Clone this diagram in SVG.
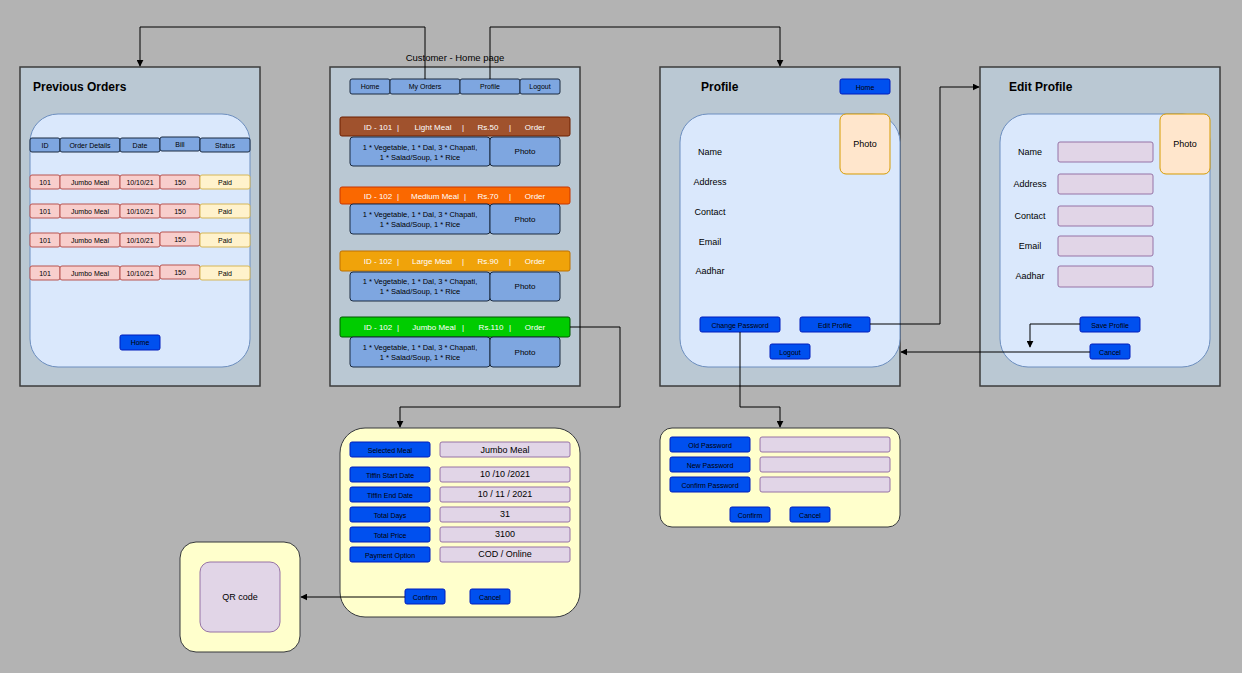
<svg xmlns="http://www.w3.org/2000/svg" width="1242" height="673" viewBox="0 0 1242 673">
<defs>
<marker id="arr" viewBox="0 0 10 10" refX="9" refY="5" markerWidth="7" markerHeight="7" orient="auto" markerUnits="userSpaceOnUse"><path d="M0,0 L10,5 L0,10 z" fill="#000"/></marker>
<style>
text{font-family:"Liberation Sans",Arial,sans-serif;text-anchor:middle;dominant-baseline:central;fill:#000}
.panel{fill:#bac8d3;stroke:#3c3c3c;stroke-width:1.5}
.inner{fill:#dae8fc;stroke:#6c8ebf;stroke-width:1}
.hdr{fill:#7ea6e0;stroke:#1a2a40;stroke-width:1}
.row{fill:#f8cecc;stroke:#b85450;stroke-width:1}
.stat{fill:#fff2cc;stroke:#d6b656;stroke-width:1}
.btn{fill:#0050ef;stroke:#001dbc;stroke-width:1}
.fld{fill:#e1d5e7;stroke:#9673a6;stroke-width:1}
.photo{fill:#ffe6cc;stroke:#d79b00;stroke-width:1}
.form{fill:#ffffcc;stroke:#36393d;stroke-width:1}
.t7{font-size:7px}
.t75{font-size:7.5px}
.t8{font-size:8px}
.t9{font-size:9px}
.ttl{font-size:12px;font-weight:bold;text-anchor:start}
.w{fill:#fff}
.con{fill:none;stroke:#000;stroke-width:1}
</style>
</defs>
<rect width="1242" height="673" fill="#b3b3b3"/>

<g id="previous-orders">
<rect class="panel" x="20" y="67" width="240" height="319"/>
<text class="ttl" x="33" y="87">Previous Orders</text>
<rect class="inner" x="30" y="114" width="220" height="253" rx="28"/>
<rect class="hdr" x="30" y="138" width="30" height="14" rx="2"/><text class="t7" x="45" y="145">ID</text>
<rect class="hdr" x="60" y="138" width="60" height="14" rx="2"/><text class="t7" x="90" y="145">Order Details</text>
<rect class="hdr" x="120" y="138" width="40" height="14" rx="2"/><text class="t7" x="140" y="145">Date</text>
<rect class="hdr" x="160" y="137" width="40" height="14" rx="2"/><text class="t7" x="180" y="144">Bill</text>
<rect class="hdr" x="200" y="138" width="50" height="14" rx="2"/><text class="t7" x="225" y="145">Status</text>
<g>
<rect class="row" x="30" y="175" width="30" height="14" rx="2"/><text class="t7" x="45" y="182">101</text>
<rect class="row" x="60" y="175" width="60" height="14" rx="2"/><text class="t7" x="90" y="182">Jumbo Meal</text>
<rect class="row" x="120" y="175" width="40" height="14" rx="2"/><text class="t7" x="140" y="182">10/10/21</text>
<rect class="row" x="160" y="175" width="40" height="14" rx="2"/><text class="t7" x="180" y="182">150</text>
<rect class="stat" x="200" y="175" width="50" height="14" rx="2"/><text class="t7" x="225" y="182">Paid</text>
</g>
<g>
<rect class="row" x="30" y="204" width="30" height="14" rx="2"/><text class="t7" x="45" y="211">101</text>
<rect class="row" x="60" y="204" width="60" height="14" rx="2"/><text class="t7" x="90" y="211">Jumbo Meal</text>
<rect class="row" x="120" y="204" width="40" height="14" rx="2"/><text class="t7" x="140" y="211">10/10/21</text>
<rect class="row" x="160" y="204" width="40" height="14" rx="2"/><text class="t7" x="180" y="211">150</text>
<rect class="stat" x="200" y="204" width="50" height="14" rx="2"/><text class="t7" x="225" y="211">Paid</text>
</g>
<g>
<rect class="row" x="30" y="233" width="30" height="14" rx="2"/><text class="t7" x="45" y="240">101</text>
<rect class="row" x="60" y="233" width="60" height="14" rx="2"/><text class="t7" x="90" y="240">Jumbo Meal</text>
<rect class="row" x="120" y="233" width="40" height="14" rx="2"/><text class="t7" x="140" y="240">10/10/21</text>
<rect class="row" x="160" y="232" width="40" height="14" rx="2"/><text class="t7" x="180" y="239">150</text>
<rect class="stat" x="200" y="233" width="50" height="14" rx="2"/><text class="t7" x="225" y="240">Paid</text>
</g>
<g>
<rect class="row" x="30" y="266" width="30" height="14" rx="2"/><text class="t7" x="45" y="273">101</text>
<rect class="row" x="60" y="266" width="60" height="14" rx="2"/><text class="t7" x="90" y="273">Jumbo Meal</text>
<rect class="row" x="120" y="266" width="40" height="14" rx="2"/><text class="t7" x="140" y="273">10/10/21</text>
<rect class="row" x="160" y="265" width="40" height="14" rx="2"/><text class="t7" x="180" y="272">150</text>
<rect class="stat" x="200" y="266" width="50" height="14" rx="2"/><text class="t7" x="225" y="273">Paid</text>
</g>
<rect class="btn" x="120" y="335" width="40" height="15" rx="2"/><text class="t7" x="140" y="342.5">Home</text>
</g>

<g id="home-page">
<text x="455" y="57" style="font-size:9.5px">Customer - Home page</text>
<rect class="panel" x="330" y="67" width="250" height="319"/>
<rect class="hdr" x="350" y="79" width="40" height="15" rx="2"/><text class="t7" x="370" y="86.5">Home</text>
<rect class="hdr" x="390" y="79" width="70" height="15" rx="2"/><text class="t7" x="425" y="86">My Orders</text>
<rect class="hdr" x="460" y="79" width="60" height="15" rx="2"/><text class="t7" x="490" y="86">Profile</text>
<rect class="hdr" x="520" y="79" width="40" height="15" rx="2"/><text class="t7" x="540" y="86.5">Logout</text>

<g id="meal-1">
<rect x="340" y="117" width="230" height="19" rx="2" fill="#a0522d" stroke="#6d1f00"/>
<text class="t8 w"><tspan x="378" y="126.5">ID - 101</tspan><tspan x="398" y="126.5">|</tspan><tspan x="433" y="126.5">Light Meal</tspan><tspan x="463" y="126.5">|</tspan><tspan x="488" y="126.5">Rs.50</tspan><tspan x="510" y="126.5">|</tspan><tspan x="535" y="126.5">Order</tspan></text>
<rect class="hdr" x="350" y="137" width="140" height="29" rx="3"/>
<text class="t75"><tspan x="420" y="147">1 * Vegetable, 1 * Dal, 3 * Chapati,</tspan><tspan x="420" y="157">1 * Salad/Soup, 1 * Rice</tspan></text>
<rect class="hdr" x="490" y="137" width="70" height="29" rx="3"/><text class="t8" x="525" y="151.5">Photo</text>
</g>
<g id="meal-2">
<rect x="340" y="187" width="230" height="17" rx="2" fill="#fa6800" stroke="#c73500"/>
<text class="t8 w"><tspan x="378" y="195.5">ID - 102</tspan><tspan x="398" y="195.5">|</tspan><tspan x="435" y="195.5">Medium Meal</tspan><tspan x="465" y="195.5">|</tspan><tspan x="488" y="195.5">Rs.70</tspan><tspan x="510" y="195.5">|</tspan><tspan x="535" y="195.5">Order</tspan></text>
<rect class="hdr" x="350" y="204" width="140" height="30" rx="3"/>
<text class="t75"><tspan x="420" y="214">1 * Vegetable, 1 * Dal, 3 * Chapati,</tspan><tspan x="420" y="224">1 * Salad/Soup, 1 * Rice</tspan></text>
<rect class="hdr" x="490" y="204" width="70" height="30" rx="3"/><text class="t8" x="525" y="219">Photo</text>
</g>
<g id="meal-3">
<rect x="340" y="251" width="230" height="20" rx="2" fill="#f0a30a" stroke="#bd7000"/>
<text class="t8 w"><tspan x="378" y="261">ID - 102</tspan><tspan x="398" y="261">|</tspan><tspan x="432" y="261">Large Meal</tspan><tspan x="463" y="261">|</tspan><tspan x="488" y="261">Rs.90</tspan><tspan x="510" y="261">|</tspan><tspan x="535" y="261">Order</tspan></text>
<rect class="hdr" x="350" y="272" width="140" height="29" rx="3"/>
<text class="t75"><tspan x="420" y="281">1 * Vegetable, 1 * Dal, 3 * Chapati,</tspan><tspan x="420" y="291">1 * Salad/Soup, 1 * Rice</tspan></text>
<rect class="hdr" x="490" y="272" width="70" height="29" rx="3"/><text class="t8" x="525" y="286">Photo</text>
</g>
<g id="meal-4">
<rect x="340" y="317" width="230" height="20" rx="2" fill="#00cc00" stroke="#005700"/>
<text class="t8 w"><tspan x="378" y="327">ID - 102</tspan><tspan x="398" y="327">|</tspan><tspan x="434" y="327">Jumbo Meal</tspan><tspan x="463" y="327">|</tspan><tspan x="491" y="327">Rs.110</tspan><tspan x="510" y="327">|</tspan><tspan x="535" y="327">Order</tspan></text>
<rect class="hdr" x="350" y="337" width="140" height="30" rx="3"/>
<text class="t75"><tspan x="420" y="347">1 * Vegetable, 1 * Dal, 3 * Chapati,</tspan><tspan x="420" y="357">1 * Salad/Soup, 1 * Rice</tspan></text>
<rect class="hdr" x="490" y="337" width="70" height="30" rx="3"/><text class="t8" x="525" y="352">Photo</text>
</g>
</g>

<g id="profile">
<rect class="panel" x="660" y="67" width="240" height="319"/>
<text class="ttl" x="701" y="87">Profile</text>
<rect class="btn" x="840" y="79" width="50" height="15" rx="2"/><text class="t7" x="865" y="87">Home</text>
<rect class="inner" x="680" y="114" width="220" height="253" rx="28"/>
<rect class="photo" x="840" y="114" width="50" height="60" rx="6"/><text class="t9" x="865" y="144">Photo</text>
<text class="t9" x="710" y="152">Name</text>
<text class="t9" x="710" y="182">Address</text>
<text class="t9" x="710" y="212">Contact</text>
<text class="t9" x="710" y="242">Email</text>
<text class="t9" x="710" y="271">Aadhar</text>
<rect class="btn" x="700" y="317" width="80" height="15" rx="2"/><text class="t7" x="740" y="325">Change Password</text>
<rect class="btn" x="800" y="317" width="70" height="15" rx="2"/><text class="t7" x="835" y="325">Edit Profile</text>
<rect class="btn" x="770" y="344" width="40" height="15" rx="2"/><text class="t7" x="790" y="352">Logout</text>
</g>

<g id="edit-profile">
<rect class="panel" x="980" y="67" width="240" height="319"/>
<text class="ttl" x="1009" y="87">Edit Profile</text>
<rect class="inner" x="1000" y="114" width="210" height="253" rx="28"/>
<rect class="photo" x="1160" y="114" width="50" height="60" rx="6"/><text class="t9" x="1185" y="144">Photo</text>
<text class="t9" x="1030" y="152">Name</text><rect class="fld" x="1058" y="142" width="95" height="20" rx="2"/>
<text class="t9" x="1030" y="184">Address</text><rect class="fld" x="1058" y="174" width="95" height="20" rx="2"/>
<text class="t9" x="1030" y="216">Contact</text><rect class="fld" x="1058" y="206" width="95" height="20" rx="2"/>
<text class="t9" x="1030" y="246">Email</text><rect class="fld" x="1058" y="236" width="95" height="20" rx="2"/>
<text class="t9" x="1030" y="276">Aadhar</text><rect class="fld" x="1058" y="266" width="95" height="21" rx="2"/>
<rect class="btn" x="1080" y="317" width="60" height="15" rx="2"/><text class="t7" x="1110" y="325">Save Profile</text>
<rect class="btn" x="1090" y="344" width="40" height="15" rx="2"/><text class="t7" x="1110" y="352">Cancel</text>
</g>

<g id="order-form">
<rect class="form" x="340" y="428" width="240" height="189" rx="25"/>
<rect class="btn" x="350" y="442" width="80" height="15" rx="2"/><text class="t7" x="390" y="450">Selected Meal</text>
<rect class="fld" x="440" y="442" width="130" height="15" rx="2"/><text class="t9" x="505" y="450">Jumbo Meal</text>
<rect class="btn" x="350" y="467" width="80" height="15" rx="2"/><text class="t7" x="390" y="475">Tiffin Start Date</text>
<rect class="fld" x="440" y="467" width="130" height="15" rx="2"/><text class="t9" x="505" y="474">10 /10 /2021</text>
<rect class="btn" x="350" y="487" width="80" height="15" rx="2"/><text class="t7" x="390" y="495">Tiffin End Date</text>
<rect class="fld" x="440" y="487" width="130" height="15" rx="2"/><text class="t9" x="505" y="494">10 / 11 / 2021</text>
<rect class="btn" x="350" y="507" width="80" height="15" rx="2"/><text class="t7" x="390" y="515">Total Days</text>
<rect class="fld" x="440" y="507" width="130" height="15" rx="2"/><text class="t9" x="505" y="514">31</text>
<rect class="btn" x="350" y="527" width="80" height="15" rx="2"/><text class="t7" x="390" y="535">Total Price</text>
<rect class="fld" x="440" y="527" width="130" height="15" rx="2"/><text class="t9" x="505" y="534">3100</text>
<rect class="btn" x="350" y="547" width="80" height="15" rx="2"/><text class="t7" x="390" y="555">Payment Option</text>
<rect class="fld" x="440" y="547" width="130" height="15" rx="2"/><text class="t9" x="505" y="554">COD / Online</text>
<rect class="btn" x="405" y="589" width="40" height="15" rx="2"/><text class="t7" x="425" y="597">Confirm</text>
<rect class="btn" x="470" y="589" width="40" height="15" rx="2"/><text class="t7" x="490" y="597">Cancel</text>
</g>

<g id="password-form">
<rect class="form" x="660" y="428" width="240" height="99" rx="12"/>
<rect class="btn" x="670" y="437" width="80" height="15" rx="2"/><text class="t7" x="710" y="445">Old Password</text>
<rect class="fld" x="760" y="437" width="130" height="15" rx="2"/>
<rect class="btn" x="670" y="457" width="80" height="15" rx="2"/><text class="t7" x="710" y="465">New Password</text>
<rect class="fld" x="760" y="457" width="130" height="15" rx="2"/>
<rect class="btn" x="670" y="477" width="80" height="15" rx="2"/><text class="t7" x="710" y="485">Confirm  Password</text>
<rect class="fld" x="760" y="477" width="130" height="15" rx="2"/>
<rect class="btn" x="730" y="507" width="40" height="15" rx="2"/><text class="t7" x="750" y="515">Confirm</text>
<rect class="btn" x="790" y="507" width="40" height="15" rx="2"/><text class="t7" x="810" y="515">Cancel</text>
</g>

<g id="qr">
<rect class="form" x="180" y="542" width="120" height="110" rx="16"/>
<rect class="fld" x="200" y="562" width="80" height="70" rx="10"/>
<text class="t9" x="240" y="597">QR code</text>
</g>

<g id="connectors">
<path class="con" d="M425,79 V27 H140 V66" marker-end="url(#arr)"/>
<path class="con" d="M490,79 V27 H780 V66" marker-end="url(#arr)"/>
<path class="con" d="M570,327 H620 V407 H400 V427" marker-end="url(#arr)"/>
<path class="con" d="M740,332 V407 H780 V427" marker-end="url(#arr)"/>
<path class="con" d="M870,324 H940 V87 H979" marker-end="url(#arr)"/>
<path class="con" d="M1080,324 H1030 V347" marker-end="url(#arr)"/>
<path class="con" d="M1090,352 H901" marker-end="url(#arr)"/>
<path class="con" d="M405,597 H301" marker-end="url(#arr)"/>
</g>
</svg>
